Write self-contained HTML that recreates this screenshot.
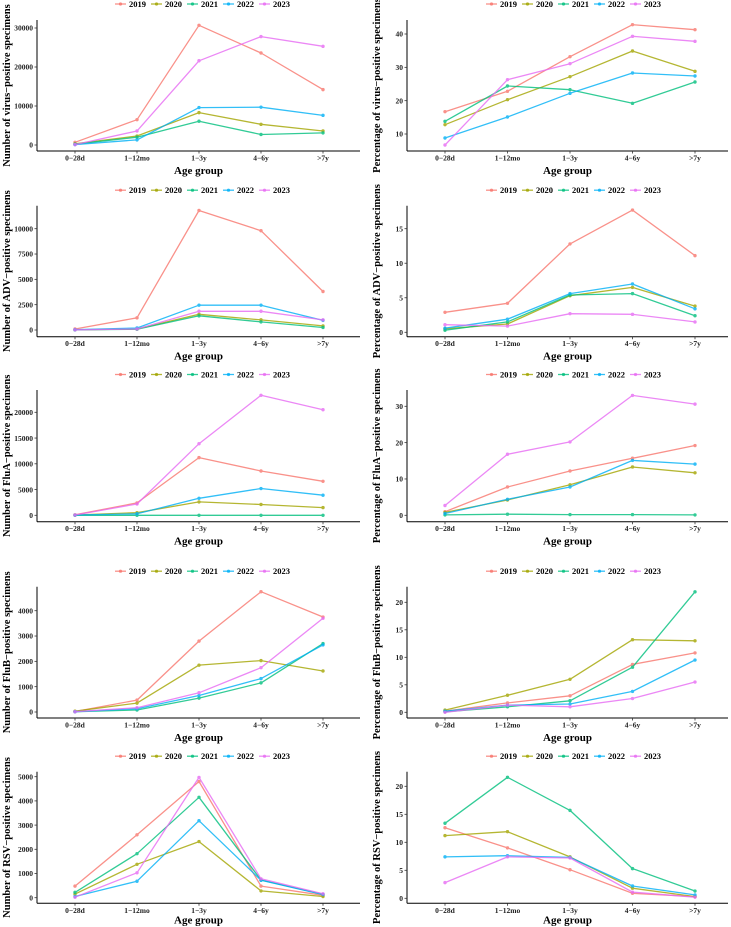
<!DOCTYPE html>
<html><head><meta charset="utf-8"><style>
html,body{margin:0;padding:0;background:#fff;}
svg{display:block;font-family:"Liberation Serif",serif;font-weight:bold;}
</style></head><body>
<svg id="fig" width="731" height="927" viewBox="0 0 731 927" xmlns="http://www.w3.org/2000/svg"></svg>
<script>
const categories = ["0\u221228d","1\u221212mo","1\u22123y","4\u22126y",">7y"];
const years = ["2019","2020","2021","2022","2023"];
const colors = ["#F8766D","#A3A500","#00BF7D","#00B0F6","#E76BF3"];

const virusCount2019 = [700,6500,30700,23600,14200];
const virusCount2020 = [300,2300,8300,5300,3600];
const virusCount2021 = [200,2000,6100,2700,3100];
const virusCount2022 = [100,1300,9600,9700,7600];
const virusCount2023 = [100,3600,21600,27800,25300];
const virusPct2019 = [16.7,22.8,33.2,42.8,41.3];
const virusPct2020 = [12.8,20.3,27.2,34.9,28.8];
const virusPct2021 = [13.8,24.4,23.3,19.2,25.6];
const virusPct2022 = [8.8,15.1,22.2,28.3,27.4];
const virusPct2023 = [6.7,26.3,31.1,39.3,37.8];
const advCount2019 = [100,1200,11800,9800,3800];
const advCount2020 = [20,100,1550,1000,400];
const advCount2021 = [10,80,1400,800,250];
const advCount2022 = [30,200,2450,2450,950];
const advCount2023 = [20,100,1850,1850,1000];
const advPct2019 = [2.9,4.2,12.8,17.7,11.1];
const advPct2020 = [0.5,1.2,5.3,6.5,3.8];
const advPct2021 = [0.3,1.5,5.4,5.6,2.4];
const advPct2022 = [0.6,1.9,5.6,7.0,3.4];
const advPct2023 = [1.1,0.9,2.7,2.6,1.5];
const fluaCount2019 = [100,2400,11200,8600,6600];
const fluaCount2020 = [50,500,2600,2100,1500];
const fluaCount2021 = [0,0,0,0,0];
const fluaCount2022 = [50,300,3300,5200,3900];
const fluaCount2023 = [50,2200,13900,23300,20500];
const fluaPct2019 = [1.0,7.8,12.2,15.7,19.2];
const fluaPct2020 = [0.8,4.2,8.4,13.3,11.7];
const fluaPct2021 = [0.1,0.3,0.2,0.2,0.1];
const fluaPct2022 = [0.5,4.4,7.8,15.1,14.1];
const fluaPct2023 = [2.7,16.8,20.2,33.0,30.6];
const flubCount2019 = [20,470,2800,4750,3750];
const flubCount2020 = [30,350,1850,2030,1620];
const flubCount2021 = [10,80,550,1150,2700];
const flubCount2022 = [10,130,650,1320,2650];
const flubCount2023 = [10,170,760,1750,3700];
const flubPct2019 = [0.2,1.7,3.0,8.7,10.8];
const flubPct2020 = [0.4,3.1,6.0,13.2,13.0];
const flubPct2021 = [0.1,1.0,2.1,8.2,21.9];
const flubPct2022 = [0.2,1.3,1.5,3.8,9.5];
const flubPct2023 = [0.0,1.3,1.0,2.5,5.5];
const rsvCount2019 = [480,2600,4800,480,100];
const rsvCount2020 = [150,1380,2320,280,50];
const rsvCount2021 = [220,1820,4150,730,140];
const rsvCount2022 = [50,680,3180,720,130];
const rsvCount2023 = [20,1030,4970,780,160];
const rsvPct2019 = [12.6,9.0,5.1,0.9,0.3];
const rsvPct2020 = [11.2,11.9,7.4,1.8,0.3];
const rsvPct2021 = [13.4,21.6,15.7,5.3,1.3];
const rsvPct2022 = [7.4,7.6,7.3,2.2,0.6];
const rsvPct2023 = [2.8,7.4,7.2,1.1,0.2];

const tickVirusCount = [0,10000,20000,30000];
const tickVirusPct = [10,20,30,40];
const tickAdvCount = [0,2500,5000,7500,10000];
const tickAdvPct = [0,5,10,15];
const tickFluaCount = [0,5000,10000,15000,20000];
const tickFluaPct = [0,10,20,30];
const tickFlubCount = [0,1000,2000,3000,4000];
const tickFlubPct = [0,5,10,15,20];
const tickRsvCount = [0,1000,2000,3000,4000,5000];
const tickRsvPct = [0,5,10,15,20];

const NS="http://www.w3.org/2000/svg";
const svg=document.getElementById('fig');
function mk(tag,attrs,parent){const e=document.createElementNS(NS,tag);for(const k in attrs)e.setAttribute(k,attrs[k]);(parent||svg).appendChild(e);return e;}

const panels=[
 {name:"virus-count",side:"L",title:"Number of virus\u2212positive specimens",series:[virusCount2019,virusCount2020,virusCount2021,virusCount2022,virusCount2023],ticks:tickVirusCount,axisY:151,top:20,ref:[0,145,30000,28],xt:23},
 {name:"virus-pct",side:"R",title:"Percentage of virus\u2212positive specimens",series:[virusPct2019,virusPct2020,virusPct2021,virusPct2022,virusPct2023],ticks:tickVirusPct,axisY:151,top:20,ref:[10,134,40,34],xt:23},
 {name:"adv-count",side:"L",title:"Number of ADV\u2212positive specimens",series:[advCount2019,advCount2020,advCount2021,advCount2022,advCount2023],ticks:tickAdvCount,axisY:336.7,top:205.7,ref:[0,330,10000,228.7],xt:23},
 {name:"adv-pct",side:"R",title:"Percentage of ADV\u2212positive specimens",series:[advPct2019,advPct2020,advPct2021,advPct2022,advPct2023],ticks:tickAdvPct,axisY:336.7,top:205.7,ref:[0,332.3,15,228.7],xt:23},
 {name:"flua-count",side:"L",title:"Number of FluA\u2212positive specimens",series:[fluaCount2019,fluaCount2020,fluaCount2021,fluaCount2022,fluaCount2023],ticks:tickFluaCount,axisY:521.7,top:390,ref:[0,515.3,20000,412.3],xt:23},
 {name:"flua-pct",side:"R",title:"Percentage of FluA\u2212positive specimens",series:[fluaPct2019,fluaPct2020,fluaPct2021,fluaPct2022,fluaPct2023],ticks:tickFluaPct,axisY:521.7,top:390,ref:[0,515.3,30,406.3],xt:23},
 {name:"flub-count",side:"L",title:"Number of FluB\u2212positive specimens",series:[flubCount2019,flubCount2020,flubCount2021,flubCount2022,flubCount2023],ticks:tickFlubCount,axisY:718,top:586.7,ref:[0,712,4000,610.7],xt:23},
 {name:"flub-pct",side:"R",title:"Percentage of FluB\u2212positive specimens",series:[flubPct2019,flubPct2020,flubPct2021,flubPct2022,flubPct2023],ticks:tickFlubPct,axisY:718,top:586.7,ref:[0,712.3,20,602.3],xt:23},
 {name:"rsv-count",side:"L",title:"Number of RSV\u2212positive specimens",series:[rsvCount2019,rsvCount2020,rsvCount2021,rsvCount2022,rsvCount2023],ticks:tickRsvCount,axisY:903.3,top:771.7,ref:[0,897.7,5000,776.7],xt:20},
 {name:"rsv-pct",side:"R",title:"Percentage of RSV\u2212positive specimens",series:[rsvPct2019,rsvPct2020,rsvPct2021,rsvPct2022,rsvPct2023],ticks:tickRsvPct,axisY:903.3,top:771.7,ref:[0,898.3,20,786.3],xt:20}
];

panels.forEach(p=>{
  const L=p.side==="L";
  const ax=L?37:407, axEnd=L?360:728, cx0=L?75:445, step=L?62:62.5;
  const legX=L?115:486;
  const xS=i=>cx0+i*step;
  const [v0,p0,v1,p1]=p.ref;
  const yS=v=>p0+(v-v0)*(p1-p0)/(v1-v0);
  const g=mk('g',{});
  
  
  const lg=mk('g',{},g);
  
  
  const ly=p.top-15.5+ (p.name.startsWith('virus')?-0.5:0);
  years.forEach((yr,k)=>{
    const ix=legX+k*36;
    const it=mk('g',{},lg);
    
    
    mk('line',{x1:ix,y1:ly,x2:ix+11,y2:ly,stroke:colors[k],'stroke-width':1.3,'stroke-opacity':0.8},it);
    mk('circle',{cx:ix+5.5,cy:ly,r:1.6,fill:colors[k],'fill-opacity':0.8},it);
    const t=mk('text',{x:ix+14,y:ly+3,'font-size':8.5,fill:'#000'},it);t.textContent=yr;
  });
  const axes=mk('g',{},g);
  
  
  mk('line',{x1:ax,y1:p.top,x2:ax,y2:p.axisY,stroke:'#000','stroke-width':1},axes);
  mk('line',{x1:ax,y1:p.axisY,x2:axEnd,y2:p.axisY,stroke:'#000','stroke-width':1},axes);
  p.ticks.forEach(tv=>{
    const y=yS(tv);
    mk('line',{x1:ax-2.5,y1:y,x2:ax,y2:y,stroke:'#333','stroke-width':0.8},axes);
    const t=mk('text',{x:ax-4,y:y+2.7,'font-size':7.5,'text-anchor':'end',fill:'#222'},axes);
    t.textContent=tv;
    
    
  });
  categories.forEach((c,i)=>{
    const x=xS(i);
    mk('line',{x1:x,y1:p.axisY,x2:x,y2:p.axisY+2.5,stroke:'#333','stroke-width':0.8},axes);
    const t=mk('text',{x:x,y:p.axisY+9.5,'font-size':7.5,'text-anchor':'middle',fill:'#222'},axes);
    t.textContent=c;
    
    
  });
  const xt=mk('text',{x:(ax+axEnd)/2,y:p.axisY+p.xt,'font-size':11,'text-anchor':'middle',fill:'#000'},g);
  xt.textContent="Age group";
  
  
  const tx=L?10:380, ty=(p.top+p.axisY)/2;
  const yt=mk('text',{x:tx,y:ty,'font-size':10.5,'text-anchor':'middle',fill:'#000',transform:`rotate(-90 ${tx} ${ty})`},g);
  yt.textContent=p.title;
  
  
  p.series.forEach((vals,k)=>{
    const sg=mk('g',{opacity:0.8},g);
    
    
    const pts=vals.map((v,i)=>xS(i).toFixed(1)+','+yS(v).toFixed(1)).join(' ');
    const pl=mk('polyline',{points:pts,fill:'none',stroke:colors[k],'stroke-width':1.3,'stroke-linejoin':'round'},sg);
    
    
    vals.forEach((v,i)=>{
      const c=mk('circle',{cx:xS(i),cy:yS(v),r:1.7,fill:colors[k]},sg);
      
      
    });
  });
});
</script>
</body></html>
